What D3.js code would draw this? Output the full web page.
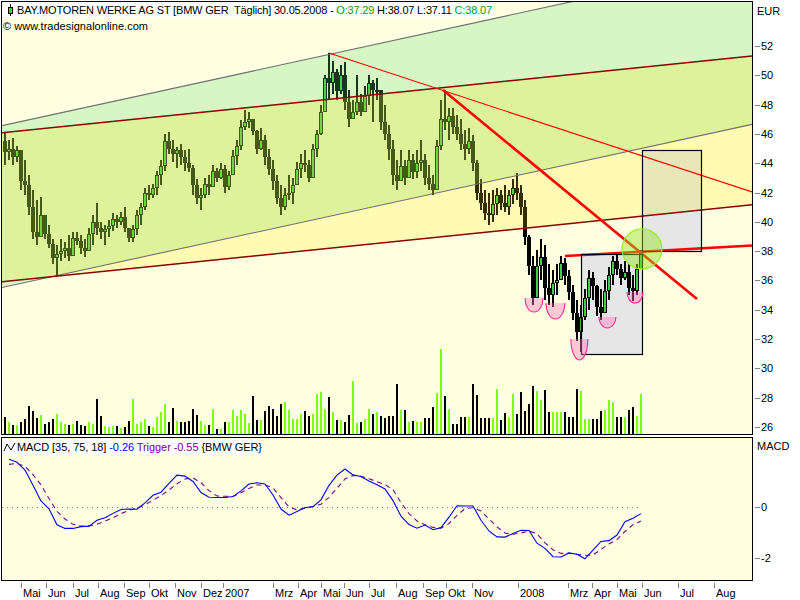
<!DOCTYPE html>
<html><head><meta charset="utf-8">
<script src="https://cdn.jsdelivr.net/npm/d3@7"></script>
<style>body{margin:0;background:#fff}svg{display:block;font-family:"Liberation Sans",Arial,sans-serif}</style>
</head><body><svg id="c" width="800" height="600"></svg>
<script>
// ---- price data (one bar per ~3.4 trading days) ----
const high=[46.1,45.6,45.7,45.2,44.9,44.2,43.2,42.2,41.5,41.7,
40.5,39.8,38.8,38.4,38.8,38.6,39.1,39.3,39.3,39.1,
38.8,39.6,40.5,41.3,40.0,39.8,40.1,40.6,40.5,40.7,
41.0,39.6,39.8,40.8,41.3,42.3,42.5,42.6,43.5,44.2,
46.0,46.1,45.6,45.1,45.3,44.9,45.0,43.9,42.9,42.3,
43.0,43.2,43.9,43.7,44.0,43.9,43.5,44.9,45.6,46.96,
47.6,47.5,47.0,46.3,46.4,45.9,45.0,44.2,43.2,42.5,
42.3,43.2,43.0,44.1,44.6,44.9,44.2,45.3,46.3,48.0,
50.0,51.5,51.0,50.4,50.7,50.9,49.0,48.3,50.0,48.7,
49.3,50.0,49.7,49.8,48.3,48.0,46.6,45.6,44.2,44.9,
44.2,44.9,44.6,44.9,45.6,44.6,43.9,43.2,45.6,48.3,
49.0,47.8,47.8,47.3,47.0,46.3,46.4,45.9,44.2,42.9,
42.2,42.0,42.2,42.3,42.2,42.5,42.2,42.9,43.3,42.5,
41.5,39.1,37.7,38.1,38.8,38.4,37.1,36.7,37.1,37.7,
37.5,36.7,35.7,34.7,34.3,35.4,36.7,36.6,35.7,35.4,
36.0,36.9,37.7,37.9,37.1,37.3,37.1,36.4,37.1,38.07];
const low=[43.9,44.2,43.9,44.1,42.2,41.8,40.5,38.8,38.4,39.1,
38.8,38.2,37.1,36.3,37.3,37.5,37.3,38.1,38.4,37.8,
37.6,38.1,38.4,39.1,38.8,38.4,39.0,39.4,39.6,39.8,
39.3,38.6,38.6,39.1,39.8,40.8,41.5,41.6,41.8,42.5,
43.5,44.6,44.1,43.7,43.9,43.5,43.4,41.8,41.2,40.8,
41.6,41.8,42.5,42.7,42.9,42.0,42.2,43.2,43.9,44.9,
46.3,46.4,45.9,44.6,44.9,43.9,43.2,42.2,41.2,40.5,
40.8,41.5,41.2,42.5,43.0,43.4,42.7,43.7,44.4,45.9,
47.6,48.3,48.7,48.3,48.7,47.6,46.5,47.0,47.3,47.2,
47.6,48.0,46.8,48.3,46.3,45.6,44.2,42.5,42.2,42.9,
42.5,43.2,42.9,43.0,43.5,42.5,42.2,41.8,42.5,44.9,
46.3,45.6,46.0,45.6,44.9,44.2,44.6,43.5,41.5,40.8,
40.1,39.8,40.0,40.5,40.8,40.7,40.5,41.2,41.5,40.5,
38.4,36.4,34.3,35.4,36.0,34.7,34.3,34.2,35.0,36.0,
35.7,34.7,33.3,31.9,31.1,33.3,34.0,34.7,33.6,33.3,
34.0,34.7,35.7,36.4,35.7,36.0,35.0,34.6,35.0,37.11];
const close=[44.8,45.0,44.4,44.9,42.8,42.5,41.0,39.3,39.0,40.5,
39.2,38.5,37.5,37.8,38.0,38.2,37.7,38.9,38.7,38.2,
38.0,39.2,40.0,39.6,39.3,39.5,39.7,40.2,40.0,40.3,
39.6,38.9,39.5,40.5,41.0,42.0,41.8,42.3,43.2,43.8,
45.5,45.0,44.6,44.9,44.4,44.0,43.7,42.5,41.6,41.8,
42.6,42.4,43.5,43.0,43.6,42.4,43.2,44.5,45.2,46.5,
46.8,47.0,46.2,45.0,45.6,44.4,43.6,42.8,41.6,41.0,
41.8,42.0,42.5,43.6,44.0,43.9,43.0,45.0,46.0,47.5,
49.8,49.5,50.2,48.9,50.0,48.2,47.0,47.5,48.2,47.5,
48.6,49.5,49.0,49.0,46.8,46.0,45.0,43.2,42.8,43.8,
43.0,44.2,43.4,44.0,44.2,43.0,42.6,42.2,45.2,47.0,
46.8,47.2,46.5,46.0,45.3,45.0,45.5,44.0,42.0,41.3,
40.6,40.5,41.2,41.8,41.3,41.0,41.8,42.3,42.0,41.0,
39.0,37.0,34.8,37.0,37.6,35.5,35.0,35.8,36.0,37.2,
36.3,35.2,33.8,32.5,33.5,34.8,36.2,35.6,34.2,33.8,
35.3,36.4,37.3,36.8,36.2,36.6,35.5,35.3,36.8,38.07];
const volume=[1.7,1.2,0.9,0.9,1.2,1.5,2.8,2.3,1.6,1.9,
1.0,1.2,1.5,2.0,1.2,1.0,0.9,1.0,1.3,0.9,
0.8,1.2,1.0,3.5,1.8,0.8,0.7,0.8,0.8,0.6,
0.7,1.3,3.5,1.0,1.2,1.5,0.8,0.7,1.7,2.2,
3.0,1.2,2.6,1.3,1.2,1.2,1.3,2.5,1.9,1.3,
0.9,0.9,2.5,0.5,0.5,1.2,1.2,2.4,1.8,2.4,
2.0,1.1,3.8,1.4,1.4,2.3,2.8,2.5,1.8,3.0,
3.2,2.4,1.5,1.5,2.0,2.3,1.8,2.0,4.0,4.2,
2.5,3.7,2.2,1.4,1.4,1.2,1.9,5.3,1.1,1.2,
1.5,2.5,2.0,2.2,1.8,1.6,1.8,1.8,5.0,2.4,
2.4,1.2,1.3,1.2,1.2,1.6,1.6,2.7,4.1,8.5,
3.8,2.5,1.0,1.0,1.7,1.7,1.7,5.0,3.9,1.6,
1.6,1.6,1.6,4.5,1.4,2.1,1.7,4.0,2.0,4.2,
2.3,3.0,4.8,4.3,3.4,4.4,2.2,2.2,2.2,2.2,
2.2,1.7,1.7,4.5,4.3,1.5,1.5,1.5,1.5,2.3,
2.4,3.4,3.2,1.7,1.7,1.7,2.4,2.7,1.8,4.0];
// MACD and trigger, read at every second bar (bars 1,3,5,...,159)
const macd=[1.87,1.76,1.45,0.85,0.24,-0.07,-0.70,-0.84,-0.84,-0.77,
-0.75,-0.52,-0.42,-0.25,-0.10,-0.08,-0.09,0.16,0.46,0.58,
0.93,1.25,1.21,1.00,0.57,0.38,0.37,0.37,0.41,0.63,
0.90,0.95,0.90,0.47,-0.08,-0.32,-0.18,-0.02,0.01,0.28,
0.85,1.25,1.49,1.26,1.20,1.02,0.87,0.71,0.25,-0.36,
-0.69,-0.83,-0.71,-0.89,-0.81,-0.40,0.05,0.04,0.04,-0.52,
-0.94,-1.17,-1.18,-1.04,-0.91,-0.92,-1.42,-1.62,-1.95,-1.96,
-1.80,-1.85,-2.03,-1.69,-1.35,-1.32,-1.10,-0.58,-0.44,-0.26];
const trigger=[1.67,1.71,1.59,1.27,0.87,0.33,-0.17,-0.47,-0.68,-0.75,
-0.74,-0.68,-0.56,-0.42,-0.26,-0.13,-0.05,0.09,0.26,0.45,
0.67,0.91,1.10,1.14,0.95,0.64,0.43,0.42,0.41,0.56,
0.73,0.86,0.87,0.75,0.37,0.00,-0.11,-0.05,0.02,0.11,
0.38,0.73,1.10,1.24,1.20,1.11,0.99,0.88,0.68,0.17,
-0.26,-0.55,-0.70,-0.80,-0.83,-0.65,-0.33,-0.06,-0.03,-0.16,
-0.47,-0.78,-1.02,-1.07,-1.02,-0.94,-1.05,-1.41,-1.68,-1.82,
-1.82,-1.85,-1.90,-1.88,-1.66,-1.45,-1.28,-0.96,-0.69,-0.55];
// axis labels (month positions in bar units)
const monthLabels=["Mai","Jun","Jul","Aug","Sep","Okt","Nov","Dez","2007","Mrz","Apr","Mai","Jun","Jul","Aug","Sep","Okt","Nov","2008","Mrz","Apr","Mai","Jun","Jul","Aug"];
const monthBars=[4,10.25,17,23.25,29.75,36,42.5,49,54.5,67,73.25,79,84.75,91,97.75,104.5,110.25,116.75,128.25,140.75,146.75,153,159.25,168.25,177.25];
const priceTicks=[26,28,30,32,34,36,38,40,42,44,46,48,50,52];
const macdTicks=[0,-2];
// drawing-tool objects, in (bar, price) coordinates
const grayUpper=[[-1.25,46.54],[186.75,57.70]];
const grayLower=[[-1.25,35.49],[186.75,46.65]];
const redUpper=[[-1.25,46.06],[186.75,51.32]];
const redLower=[[-1.25,35.89],[186.75,41.16]];
const thinTrend=[[81,51.52],[186.75,42.04]];
const thickTrend=[[109.5,49.0],[173,34.73]];
const resistance=[[140,37.67],[186.75,38.39]];
const boxes=[[144,37.81,159.25,30.98],[159.25,44.90,174,38.01]];
const circleCenter=[159.25,38.15];
const lowMarks=[[132.25,34.80,9,14],[137.6,34.46,9.5,16],[143.6,32.01,8.5,21],[150.6,33.51,8.5,11],[157.5,35.21,8,11]];

const svg=d3.select("#c");
const x=d3.scaleLinear().domain([0,159]).range([5,641]);
const y=d3.scaleLinear().domain([26,52]).range([427,46]);
const yv=d3.scaleLinear().domain([0,10]).range([434,334]);
const ym=d3.scaleLinear().domain([0,-2]).range([507,558]);

svg.append("rect").attr("width",800).attr("height",600).attr("fill","#fff");
const defs=svg.append("defs");
defs.append("clipPath").attr("id","cm").append("rect").attr("x",2).attr("y",2).attr("width",750).attr("height",432);
defs.append("clipPath").attr("id","cd").append("rect").attr("x",2).attr("y",438).attr("width",750).attr("height",142);

svg.append("rect").attr("x",2).attr("y",2).attr("width",750).attr("height",432).attr("fill","#FFFFE1");
svg.append("rect").attr("x",2).attr("y",438).attr("width",750).attr("height",142).attr("fill","#FFFFE1");

const gm=svg.append("g").attr("clip-path","url(#cm)");
// boxes fill
gm.selectAll("rect.bx").data(boxes).join("rect").attr("class","bx")
 .attr("x",d=>x(d[0])).attr("y",d=>y(d[1])).attr("width",d=>x(d[2])-x(d[0])).attr("height",d=>y(d[3])-y(d[1]))
 .attr("fill","#E6E6E6");

const open=close.map((c,i)=>i===0?45.5:close[i-1]);
// volume
gm.append("g").attr("shape-rendering","crispEdges").selectAll("rect").data(volume).join("rect")
 .attr("x",(d,i)=>Math.round(x(i))-1).attr("width",2)
 .attr("y",d=>Math.round(yv(d))).attr("height",d=>434-Math.round(yv(d)))
 .attr("fill",(d,i)=>close[i]>=open[i]?"#7FFF00":"#000");
// candles
const cg=gm.append("g").attr("shape-rendering","crispEdges");
close.forEach((c,i)=>{
  const o=open[i], cx=Math.round(x(i));
  const hi=Math.max(high[i],o,c), lo=Math.min(low[i],o,c);
  const ht=Math.round(y(hi)), hb=Math.round(y(lo));
  cg.append("rect").attr("x",cx-1).attr("width",2).attr("y",ht).attr("height",Math.max(1,hb-ht)).attr("fill","#000");
  const bt=Math.round(y(Math.max(o,c))), bb=Math.round(y(Math.min(o,c)));
  const h=Math.max(2,bb-bt);
  cg.append("rect").attr("x",cx-2).attr("width",4).attr("y",bt).attr("height",h).attr("fill","#000");
  if(c>=o && h>2) cg.append("rect").attr("x",cx-1).attr("width",2).attr("y",bt+1).attr("height",h-2).attr("fill","#3CD23C");
});
// channel overlays
const P=p=>[x(p[0]),y(p[1])];
const poly=(a,b)=>[P(a[0]),P(a[1]),P(b[1]),P(b[0])].map(d=>d.join(",")).join(" ");
gm.append("polygon").attr("points",poly(grayUpper,grayLower)).attr("fill","rgb(90,220,110)").attr("fill-opacity",0.25);
gm.append("polygon").attr("points",poly(redUpper,redLower)).attr("fill","rgb(255,230,0)").attr("fill-opacity",0.2);
const line=d3.line().x(d=>x(d[0])).y(d=>y(d[1]));
[grayUpper,grayLower].forEach(l=>gm.append("path").attr("d",line(l)).attr("stroke","#6E6E6E").attr("stroke-width",1.1).attr("fill","none"));
[redUpper,redLower].forEach(l=>gm.append("path").attr("d",line(l)).attr("stroke","#8B0000").attr("stroke-width",1.5).attr("fill","none"));
gm.append("path").attr("d",line(thinTrend)).attr("stroke","#FF0000").attr("stroke-width",1.1).attr("fill","none");
gm.append("path").attr("d",line(thickTrend)).attr("stroke","#FF0000").attr("stroke-width",2.6).attr("fill","none");
gm.append("path").attr("d",line(resistance)).attr("stroke","#FF0000").attr("stroke-width",2.6).attr("fill","none");
// box borders
gm.selectAll("rect.bb").data(boxes).join("rect").attr("class","bb")
 .attr("x",d=>Math.round(x(d[0]))+0.5).attr("y",d=>Math.round(y(d[1]))+0.5).attr("width",d=>Math.round(x(d[2])-x(d[0]))).attr("height",d=>Math.round(y(d[3])-y(d[1])))
 .attr("fill","none").attr("stroke","#000").attr("stroke-width",1.2);
// low marks (half ellipses)
lowMarks.forEach(m=>{
  const cx=x(m[0]), cy=y(m[1]), rx=m[2], ry=m[3];
  gm.append("path").attr("d",`M${cx-rx},${cy} A${rx},${ry} 0 0 0 ${cx+rx},${cy}`)
   .attr("fill","rgb(255,120,190)").attr("fill-opacity",0.4).attr("stroke","#FF2D96").attr("stroke-width",1.1);
});
gm.append("circle").attr("cx",x(circleCenter[0])).attr("cy",y(circleCenter[1])).attr("r",20)
 .attr("fill","rgb(150,225,40)").attr("fill-opacity",0.45).attr("stroke","#90EE30").attr("stroke-width",1.2);

// MACD panel
const gd=svg.append("g").attr("clip-path","url(#cd)");
gd.append("line").attr("x1",2).attr("x2",x(159)).attr("y1",ym(0)+0.5).attr("y2",ym(0)+0.5)
 .attr("stroke","#808080").attr("stroke-dasharray","1,4");
const ml=d3.line().x((d,i)=>x(2*i+1)).y(d=>ym(d));
gd.append("path").attr("d",ml(trigger)).attr("stroke","#800080").attr("stroke-width",1.1).attr("stroke-dasharray","5,4").attr("fill","none");
gd.append("path").attr("d",ml(macd)).attr("stroke","#0000FF").attr("stroke-width",1.1).attr("fill","none");

// borders
svg.append("rect").attr("x",1.5).attr("y",1.5).attr("width",751).attr("height",433).attr("fill","none").attr("stroke","#000");
svg.append("rect").attr("x",1.5).attr("y",437.5).attr("width",751).attr("height",143).attr("fill","none").attr("stroke","#000");

// right axes
const ax=svg.append("g").attr("font-size","11px");
priceTicks.forEach(t=>{
  ax.append("line").attr("x1",755).attr("x2",760).attr("y1",Math.round(y(t))+0.5).attr("y2",Math.round(y(t))+0.5).attr("stroke","#808080");
  ax.append("text").attr("x",761).attr("y",y(t)+4).text(t);
});
ax.append("text").attr("x",757).attr("y",15).text("EUR");
macdTicks.forEach(t=>{
  ax.append("line").attr("x1",755).attr("x2",760).attr("y1",Math.round(ym(t))+0.5).attr("y2",Math.round(ym(t))+0.5).attr("stroke","#808080");
  ax.append("text").attr("x",761).attr("y",ym(t)+4).text(t);
});
ax.append("text").attr("x",757).attr("y",450).text("MACD");

// bottom axis
monthLabels.forEach((m,i)=>{
  const tx=Math.round(x(monthBars[i]))+0.5;
  ax.append("line").attr("x1",tx).attr("x2",tx).attr("y1",583).attr("y2",588).attr("stroke","#808080");
  ax.append("text").attr("x",tx+1.5).attr("y",597).text(m);
});

// header
svg.append("rect").attr("x",2).attr("y",2).attr("width",491).attr("height",16).attr("fill","#fff");
svg.append("rect").attr("x",10).attr("y",4).attr("width",1).attr("height",12).attr("fill","#000");
svg.append("rect").attr("x",8.5).attr("y",7.5).attr("width",4).attr("height",6).attr("fill","#3CD23C").attr("stroke","#000");
const ht=svg.append("text").attr("x",17).attr("y",14).attr("font-size","11px").style("white-space","pre")
 .attr("textLength",475).attr("lengthAdjust","spacing");
ht.append("tspan").text("BAY.MOTOREN WERKE AG ST [BMW GER  T\u00e4glich] 30.05.2008 - ");
ht.append("tspan").attr("fill","#00A000").text("O:37.29");
ht.append("tspan").text(" H:38.07 L:37.11 ");
ht.append("tspan").attr("fill","#00A000").text("C:38.07");
svg.append("text").attr("x",3).attr("y",30).attr("font-size","11px").attr("textLength",145).attr("lengthAdjust","spacing").text("\u00a9 www.tradesignalonline.com");

svg.append("rect").attr("x",2).attr("y",438).attr("width",262).attr("height",17).attr("fill","#fff");
svg.append("path").attr("d","M4,451 L7,444 L11,450 L15,443").attr("fill","none").attr("stroke","#000").attr("stroke-width",1);
const mt=svg.append("text").attr("x",17).attr("y",451).attr("font-size","11px").style("white-space","pre")
 .attr("textLength",245).attr("lengthAdjust","spacing");
mt.append("tspan").text("MACD [35, 75, 18] ");
mt.append("tspan").attr("fill","#0000FF").text("-0.26");
mt.append("tspan").attr("fill","#800080").text(" Trigger -0.55");
mt.append("tspan").text(" {BMW GER}");
</script></body></html>
